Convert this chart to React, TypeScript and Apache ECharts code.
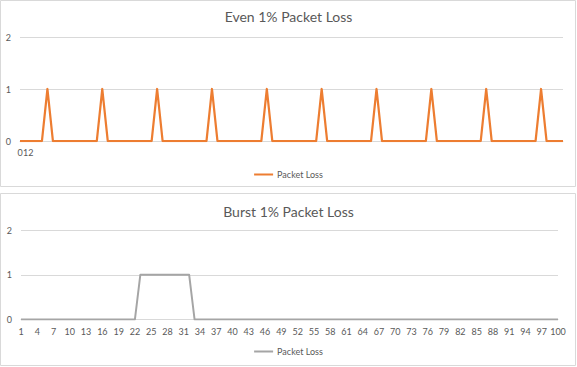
import React, { useEffect, useRef } from "react";
import * as echarts from "echarts";

const evenTitle = "Even 1% Packet Loss";
const burstTitle = "Burst 1% Packet Loss";
const seriesName = "Packet Loss";

// Top chart: 100 samples, only the first three category labels are shown
const evenLabels = ["0", "1", "2"];
const evenValues = [
  0, 0, 0, 0, 0, 1, 0, 0, 0, 0,
  0, 0, 0, 0, 0, 1, 0, 0, 0, 0,
  0, 0, 0, 0, 0, 1, 0, 0, 0, 0,
  0, 0, 0, 0, 0, 1, 0, 0, 0, 0,
  0, 0, 0, 0, 0, 1, 0, 0, 0, 0,
  0, 0, 0, 0, 0, 1, 0, 0, 0, 0,
  0, 0, 0, 0, 0, 1, 0, 0, 0, 0,
  0, 0, 0, 0, 0, 1, 0, 0, 0, 0,
  0, 0, 0, 0, 0, 1, 0, 0, 0, 0,
  0, 0, 0, 0, 0, 1, 0, 0, 0, 0,
];

// Bottom chart: categories 1..100
const burstCategories = [
  "1", "2", "3", "4", "5", "6", "7", "8", "9", "10",
  "11", "12", "13", "14", "15", "16", "17", "18", "19", "20",
  "21", "22", "23", "24", "25", "26", "27", "28", "29", "30",
  "31", "32", "33", "34", "35", "36", "37", "38", "39", "40",
  "41", "42", "43", "44", "45", "46", "47", "48", "49", "50",
  "51", "52", "53", "54", "55", "56", "57", "58", "59", "60",
  "61", "62", "63", "64", "65", "66", "67", "68", "69", "70",
  "71", "72", "73", "74", "75", "76", "77", "78", "79", "80",
  "81", "82", "83", "84", "85", "86", "87", "88", "89", "90",
  "91", "92", "93", "94", "95", "96", "97", "98", "99", "100",
];
const burstValues = [
  0, 0, 0, 0, 0, 0, 0, 0, 0, 0,
  0, 0, 0, 0, 0, 0, 0, 0, 0, 0,
  0, 0, 1, 1, 1, 1, 1, 1, 1, 1,
  1, 1, 0, 0, 0, 0, 0, 0, 0, 0,
  0, 0, 0, 0, 0, 0, 0, 0, 0, 0,
  0, 0, 0, 0, 0, 0, 0, 0, 0, 0,
  0, 0, 0, 0, 0, 0, 0, 0, 0, 0,
  0, 0, 0, 0, 0, 0, 0, 0, 0, 0,
  0, 0, 0, 0, 0, 0, 0, 0, 0, 0,
  0, 0, 0, 0, 0, 0, 0, 0, 0, 0,
];

const yTicks = [0, 1, 2];

const FONT = "Lato, 'Open Sans', sans-serif";
const TEXT = "#595959";
const GRID = "#d9d9d9";
const ORANGE = "#ED7D31";
const GRAY = "#A5A5A5";

export default function App() {
  const ref = useRef<HTMLDivElement>(null);

  useEffect(() => {
    if (!ref.current) return;
    const chart = echarts.init(ref.current, undefined, { renderer: "svg" });
    const evenCategories = evenValues.map((_, i) => String(i));

    const yAxisBase = (gridIndex: number) => ({
      type: "value",
      gridIndex,
      min: yTicks[0],
      max: yTicks[yTicks.length - 1],
      interval: 1,
      axisLine: { show: false },
      axisTick: { show: false },
      axisLabel: { color: TEXT, fontSize: 9, fontFamily: FONT, margin: 9 },
      splitLine: { lineStyle: { color: GRID, width: 1 } },
    });

    chart.setOption({
      animation: false,
      backgroundColor: "#ffffff",
      textStyle: { fontFamily: FONT },
      title: [
        {
          text: evenTitle,
          left: "center",
          top: 4,
          textStyle: { color: TEXT, fontSize: 14, fontWeight: "normal", fontFamily: FONT },
        },
        {
          text: burstTitle,
          left: "center",
          top: 199,
          textStyle: { color: TEXT, fontSize: 14, fontWeight: "normal", fontFamily: FONT },
        },
      ],
      legend: [
        {
          data: [{ name: seriesName + " ", icon: "rect" }],
          top: 165,
          left: "center",
          itemWidth: 19,
          itemHeight: 2,
          itemGap: 4,
          textStyle: { color: TEXT, fontSize: 9, fontFamily: FONT, padding: [0, 0, 0, -1] },
          formatter: () => seriesName,
        },
        {
          data: [{ name: seriesName, icon: "rect" }],
          top: 342,
          left: "center",
          itemWidth: 19,
          itemHeight: 2,
          itemGap: 4,
          textStyle: { color: TEXT, fontSize: 9, fontFamily: FONT, padding: [0, 0, 0, -1] },
        },
      ],
      grid: [
        { left: 20, right: 14, top: 37, height: 104 },
        { left: 21, right: 19, top: 230, height: 89.5 },
      ],
      xAxis: [
        {
          type: "category",
          gridIndex: 0,
          data: evenCategories,
          boundaryGap: false,
          axisLine: { lineStyle: { color: GRID } },
          axisTick: { show: false },
          axisLabel: {
            interval: 0,
            color: TEXT,
            fontSize: 9,
            fontFamily: FONT,
            margin: 7,
            formatter: (v: string, i: number) => (i < evenLabels.length ? evenLabels[i] : ""),
          },
          splitLine: { show: false },
        },
        {
          type: "category",
          gridIndex: 1,
          data: burstCategories,
          boundaryGap: false,
          axisLine: { lineStyle: { color: GRID } },
          axisTick: { show: false },
          axisLabel: { interval: 2, color: TEXT, fontSize: 9, fontFamily: FONT, margin: 7 },
          splitLine: { show: false },
        },
      ],
      yAxis: [yAxisBase(0), yAxisBase(1)],
      series: [
        {
          name: seriesName + " ",
          type: "line",
          xAxisIndex: 0,
          yAxisIndex: 0,
          data: evenValues,
          showSymbol: false,
          symbol: "none",
          color: ORANGE,
          lineStyle: { color: ORANGE, width: 2.25, join: "round" },
        },
        {
          name: seriesName,
          type: "line",
          xAxisIndex: 1,
          yAxisIndex: 1,
          data: burstValues,
          showSymbol: false,
          symbol: "none",
          color: GRAY,
          lineStyle: { color: GRAY, width: 2, join: "round" },
        },
      ],
      graphic: [
        {
          type: "rect",
          shape: { x: 0.5, y: 0.5, width: 575, height: 186 },
          style: { fill: "none", stroke: GRID, lineWidth: 1 },
          silent: true,
          z: 100,
        },
        {
          type: "rect",
          shape: { x: 0.5, y: 193.5, width: 575, height: 172 },
          style: { fill: "none", stroke: GRID, lineWidth: 1 },
          silent: true,
          z: 100,
        },
      ],
    });

    return () => chart.dispose();
  }, []);

  return (
    <div
      ref={ref}
      style={{ position: "absolute", left: 0, top: 0, width: 577, height: 367 }}
    />
  );
}
